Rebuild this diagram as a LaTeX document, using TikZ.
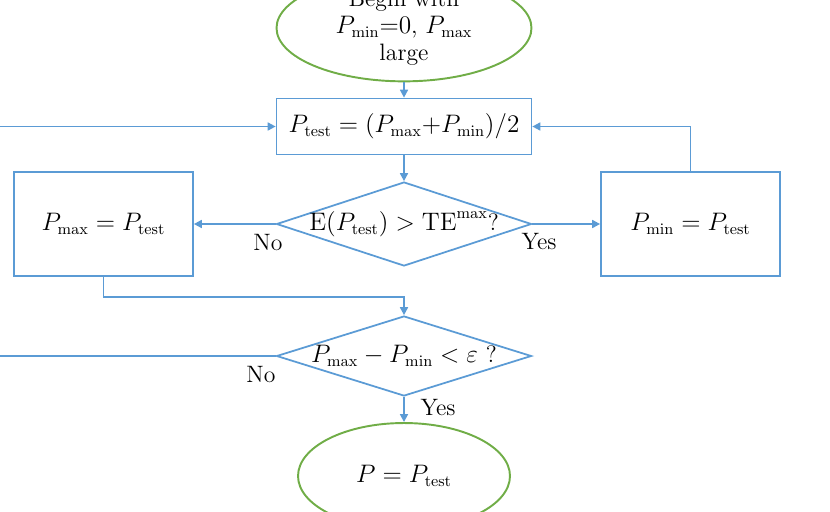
\documentclass[tikz,border=0pt]{standalone}
\usepackage{amsmath,amssymb}
\usepackage{xcolor}
\usepackage{tikz}
\usetikzlibrary{arrows.meta, positioning}
\usetikzlibrary{shapes.geometric}

\definecolor{flowblue}{HTML}{5B9BD5}
\definecolor{flowgreen}{HTML}{70AD47}

\begin{document}
\begin{tikzpicture}[x=0.02cm, y=-0.02cm, line width=1pt,
        font=\fontsize{13.5}{15.4}\selectfont,
        >={Triangle[length=4.5pt,width=4.5pt]},
        flow/.style={draw=flowblue, flowblue},
        stepbox/.style={rectangle, draw=flowblue, inner sep=0pt},
        decide/.style={diamond, draw=flowblue, inner sep=0pt, minimum width=5.1cm},
        terminal/.style={ellipse, draw=flowgreen, line width=1.1pt, inner sep=0pt, align=center}]

        \useasboundingbox (0,0) rectangle (830,511);

        \node[terminal, minimum width=5.1cm, minimum height=2.08cm] (start) at (404,28)
            {Begin with\\$P_{\mathrm{min}}{=}0$, $P_{\mathrm{max}}$\\large};
        \node[stepbox, minimum width=5.1cm, minimum height=1.12cm] (ptest) at (404,126.5)
            {$P_{\mathrm{test}} = (P_{\mathrm{max}}{+}P_{\mathrm{min}})/2$};
        \node[decide, minimum height=1.68cm] (exceed) at (404,224)
            {\makebox[0pt]{$\mathrm{E}(P_{\mathrm{test}}) > \mathrm{TE}^{\mathrm{max}}$?}};
        \node[stepbox, minimum width=3.58cm, minimum height=2.08cm] (pmax) at (103.5,224)
            {$P_{\mathrm{max}} = P_{\mathrm{test}}$};
        \node[stepbox, minimum width=3.58cm, minimum height=2.08cm] (pmin) at (690.5,224)
            {$P_{\mathrm{min}} = P_{\mathrm{test}}$};
        \node[decide, minimum height=1.6cm] (check) at (404,356)
            {\makebox[0pt]{$P_{\mathrm{max}} - P_{\mathrm{min}} < \varepsilon$ ?}};
        \node[terminal, minimum width=4.24cm, minimum height=2.12cm] (stop) at (404,476)
            {$P = P_{\mathrm{test}}$};

        \coordinate (loopin) at (0,126.5);
        \coordinate (loopout) at (0,356);

        \draw[flow, ->] (start) -- (ptest);
        \draw[flow, ->] (ptest) -- (exceed);
        \draw[flow, ->] (exceed) -- (pmax);
        \draw[flow, ->] (exceed) -- (pmin);
        \draw[flow, ->] (pmin.north) |- (ptest.east);
        \draw[flow, ->] (loopin) -- (ptest.west);
        \draw[flow, ->] (pmax.south) -- ++(0,20) -| (check.north);
        \draw[flow] (check.west) -- (loopout);
        \draw[flow, ->] (check) -- (stop);

        \node (no1) at (268,243) {No};
        \node (yes1) at (539,242) {Yes};
        \node (no2) at (261,375) {No};
        \node (yes2) at (438,408) {Yes};
    \end{tikzpicture}
\end{document}
